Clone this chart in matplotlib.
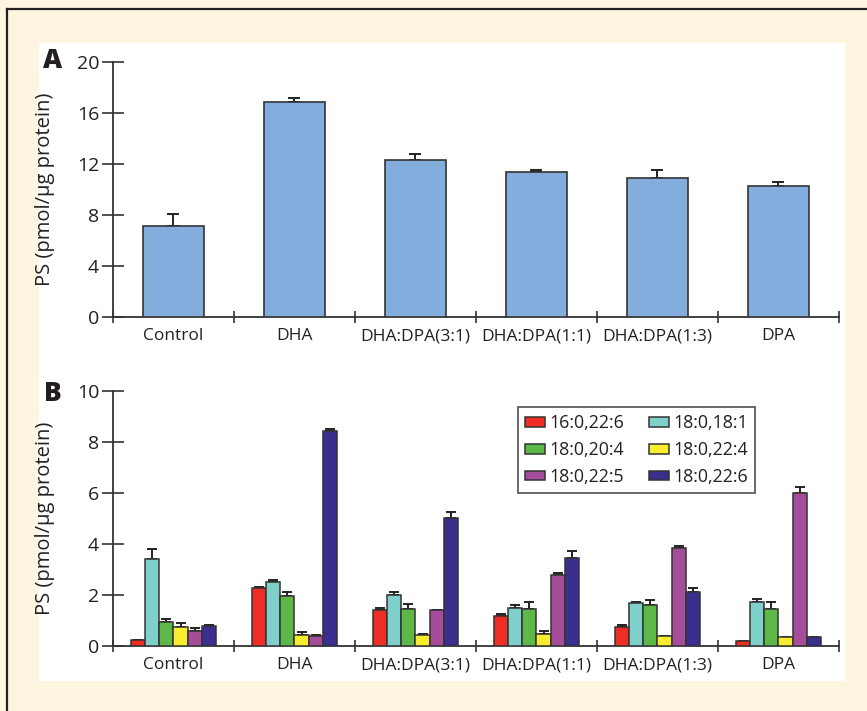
import numpy as np
import matplotlib
matplotlib.use("Agg")
from matplotlib import pyplot as plt
from matplotlib.patches import Rectangle
from matplotlib.lines import Line2D

# data
groups = ["Control", "DHA", "DHA:DPA(3:1)", "DHA:DPA(1:1)", "DHA:DPA(1:3)", "DPA"]

ps_total = [7.1, 16.9, 12.3, 11.4, 10.9, 10.3]
ps_total_err = [1.0, 0.3, 0.5, 0.1, 0.65, 0.25]

species = ["16:0,22:6", "18:0,18:1", "18:0,20:4", "18:0,22:4", "18:0,22:5", "18:0,22:6"]
species_colors = ["#EE2E24", "#7FCFCB", "#5DB847", "#F8ED2E", "#A54D9A", "#3A2F8F"]

# rows = species, columns = groups
ps_species = [
    [0.22, 2.26, 1.41, 1.16, 0.76, 0.18],   # 16:0,22:6
    [3.41, 2.52, 2.00, 1.50, 1.69, 1.71],   # 18:0,18:1
    [0.93, 1.97, 1.44, 1.45, 1.61, 1.44],   # 18:0,20:4
    [0.73, 0.44, 0.44, 0.46, 0.38, 0.34],   # 18:0,22:4
    [0.60, 0.39, 1.40, 2.78, 3.83, 5.99],   # 18:0,22:5
    [0.80, 8.43, 5.01, 3.44, 2.13, 0.35],   # 18:0,22:6
]
ps_species_err = [
    [0.00, 0.07, 0.08, 0.09, 0.08, 0.00],
    [0.38, 0.08, 0.10, 0.12, 0.02, 0.13],
    [0.13, 0.13, 0.22, 0.26, 0.18, 0.27],
    [0.18, 0.10, 0.05, 0.12, 0.00, 0.00],
    [0.09, 0.05, 0.03, 0.09, 0.10, 0.23],
    [0.04, 0.09, 0.23, 0.27, 0.16, 0.00],
]

FONT = ["Open Sans", "DejaVu Sans"]
plt.rcParams["font.family"] = FONT
EDGE = "#333333"
TXT = "#231F20"
W, H = 867, 711

fig = plt.figure(figsize=(W / 100, H / 100), dpi=100, facecolor="#FDF5DF")

# white panel + frame lines
fig.patches.append(Rectangle((39 / W, 1 - 681 / H), (845 - 39) / W, (681 - 43) / H,
                             transform=fig.transFigure, facecolor="white", edgecolor="none", zorder=-5))
fig.lines.append(Line2D([7 / W, 1], [1 - 8.5 / H, 1 - 8.5 / H], transform=fig.transFigure,
                        color=TXT, lw=1.6))
fig.lines.append(Line2D([7 / W, 7 / W], [0, 1 - 8.5 / H], transform=fig.transFigure,
                        color=TXT, lw=1.6))

ax_a = fig.add_axes([113 / W, 1 - 317 / H, 726 / W, 255 / H])
ax_b = fig.add_axes([113 / W, 1 - 646 / H, 726 / W, 255 / H])

x = np.arange(len(groups)) + 0.5


def style_axis(ax, ymax, step):
    ax.set_facecolor("none")
    ax.set_xlim(0, len(groups))
    ax.set_ylim(0, ymax)
    for s in ["top", "right"]:
        ax.spines[s].set_visible(False)
    for s in ["left", "bottom"]:
        ax.spines[s].set_color(EDGE)
        ax.spines[s].set_linewidth(1.3)
    ax.set_yticks(np.arange(0, ymax + 0.1, step))
    ax.tick_params(axis="y", direction="inout", length=16, width=1.2, color=EDGE,
                   labelsize=14, pad=2, labelcolor=TXT)
    ax.set_xticks(x)
    ax.set_xticklabels(groups)
    ax.tick_params(axis="x", which="major", length=0, pad=8, labelsize=12.5, labelcolor=TXT)
    ax.set_xticks(np.arange(0, len(groups) + 1), minor=True)
    ax.tick_params(axis="x", which="minor", direction="inout", length=9, width=1.2, color=EDGE)
    ax.set_ylabel("PS (pmol/μg protein)", fontsize=14.5, color=TXT)
    ax.yaxis.set_label_coords(-0.08, 0.5)


# panel A
style_axis(ax_a, 20, 4)
ax_a.bar(x, ps_total, width=0.5, color="#82ADDC", edgecolor=EDGE, linewidth=1.2, zorder=3)
ax_a.errorbar(x, ps_total, yerr=[np.zeros(len(x)), ps_total_err], fmt="none",
              ecolor="#222222", elinewidth=1.4, capsize=4, capthick=1.4, zorder=2)

# panel B
style_axis(ax_b, 10, 2)
bw = 0.117
handles = []
for i, (name, col) in enumerate(zip(species, species_colors)):
    xs = x + (i - 2.5) * bw
    b = ax_b.bar(xs, ps_species[i], width=bw, color=col, edgecolor=EDGE, linewidth=1.1,
                 label=name, zorder=3)
    handles.append(b)
    ax_b.errorbar(xs, ps_species[i], yerr=[np.zeros(len(x)), ps_species_err[i]], fmt="none",
                  ecolor="#222222", elinewidth=1.4, capsize=3.5, capthick=1.4, zorder=2)

# legend is filled row by row in the reference
order = [0, 2, 4, 1, 3, 5]
leg = ax_b.legend([handles[k] for k in order], [species[k] for k in order], ncol=2,
                  loc="upper left", bbox_to_anchor=(0.558, 0.937), fontsize=12.8,
                  frameon=True, fancybox=False, edgecolor="#222222", handlelength=1.1,
                  handleheight=0.45, handletextpad=0.25, columnspacing=1.4, labelspacing=0.5,
                  borderpad=0.4, borderaxespad=0)
leg.get_frame().set_linewidth(1.2)
for t in leg.get_texts():
    t.set_color(TXT)

fig.text(53 / W, 1 - 61 / H, "A", fontsize=19, fontweight="heavy", ha="center", va="center",
         color=TXT)
fig.text(53 / W, 1 - 394 / H, "B", fontsize=19, fontweight="heavy", ha="center", va="center",
         color=TXT)

fig.savefig("out.png", dpi=100, facecolor=fig.get_facecolor())
